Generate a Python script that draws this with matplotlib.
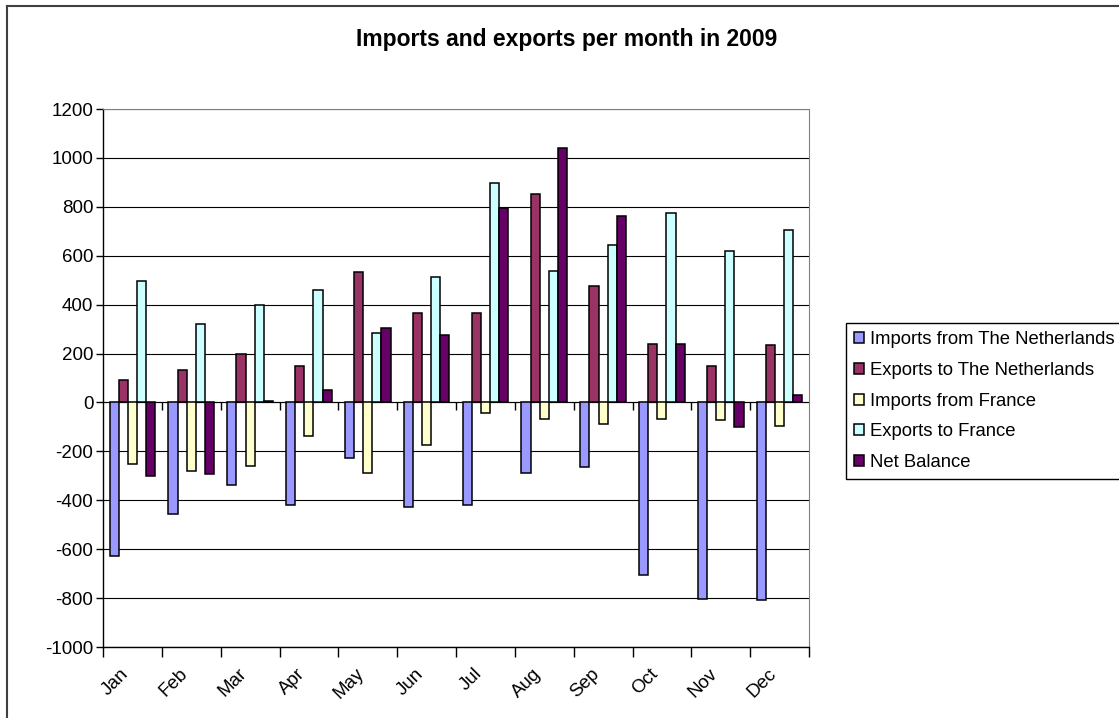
import numpy as np
import matplotlib.pyplot as plt
import matplotlib.transforms as mtransforms
from matplotlib.lines import Line2D

plt.rcParams['font.family'] = ['Liberation Sans', 'DejaVu Sans']
plt.rcParams['axes.unicode_minus'] = False

months = ['Jan', 'Feb', 'Mar', 'Apr', 'May', 'Jun',
          'Jul', 'Aug', 'Sep', 'Oct', 'Nov', 'Dec']

imports_nl = [-627, -455, -336, -421, -227, -426, -419, -287, -264, -705, -802, -809]
exports_nl = [90, 131, 198, 150, 532, 364, 364, 854, 477, 239, 149, 233]
imports_fr = [-251, -281, -258, -137, -287, -173, -44, -67, -90, -67, -72, -96]
exports_fr = [495, 322, 400, 460, 286, 513, 896, 537, 645, 776, 621, 704]
net_balance = [-300, -294, 6, 49, 306, 274, 795, 1039, 764, 239, -102, 31]

series = [
    ('Imports from The Netherlands', imports_nl, '#9999FF'),
    ('Exports to The Netherlands', exports_nl, '#993366'),
    ('Imports from France', imports_fr, '#FFFFCC'),
    ('Exports to France', exports_fr, '#CCFFFF'),
    ('Net Balance', net_balance, '#660066'),
]

fig = plt.figure(figsize=(11.19, 7.18), dpi=100)
ax = fig.add_axes([103/1119, 1 - 647/718, (809 - 103)/1119, (647 - 109)/718])

x = np.arange(len(months))
w = 0.155
off = (1 - 5 * w) / 2
for k, (name, vals, col) in enumerate(series):
    ax.bar(x + off + k * w, vals, width=w, align='edge', color=col,
           edgecolor='black', linewidth=1.1, label=name, zorder=3)

ax.set_xlim(0, len(months))
ax.set_ylim(-1000, 1200)
ax.set_yticks(np.arange(-1000, 1201, 200))
ax.yaxis.grid(True, color='black', linewidth=0.8, zorder=0)
ax.tick_params(axis='y', labelsize=13.5, length=5, width=1, direction='out', pad=2)

# category boundaries get ticks, month names sit in between
ax.set_xticks(np.arange(len(months) + 1))
ax.set_xticklabels([])
ax.tick_params(axis='x', which='major', length=7, width=1, direction='out')
ax.set_xticks(x + 0.5, minor=True)
ax.set_xticklabels(months, minor=True, rotation=45, ha='right',
                   rotation_mode='anchor', fontsize=13.5)
ax.tick_params(axis='x', which='minor', length=0, pad=13)
shift = mtransforms.ScaledTranslation(-12/100, 0, fig.dpi_scale_trans)
for lab in ax.get_xticklabels(minor=True):
    lab.set_transform(lab.get_transform() + shift)

for s in ['top', 'right']:
    ax.spines[s].set_color('#808080')
ax.spines['left'].set_linewidth(1.0)
ax.spines['bottom'].set_linewidth(1.0)

# the category axis crossing at zero
zero_ax = ax.secondary_xaxis(1000 / 2200)
zero_ax.set_xticks(np.arange(len(months) + 1))
zero_ax.set_xticklabels([])
zero_ax.tick_params(axis='x', direction='in', length=0)
zero_ax.spines['top'].set_linewidth(1.8)
ax.vlines(np.arange(1, len(months)), -32, 0, color='black', linewidth=1, zorder=4)

fig.text(567/1119, 1 - 46/718, 'Imports and exports per month in 2009',
         ha='center', va='baseline', fontsize=16.5, fontweight='bold')

fig.legend(loc='upper left', bbox_to_anchor=(846/1119, 1 - 323/718),
           fontsize=13.3, frameon=True, fancybox=False, edgecolor='black',
           framealpha=1, handlelength=0.55, handleheight=0.55, handletextpad=0.3,
           labelspacing=0.74, borderpad=0.45, borderaxespad=0)

# chart area border
fig.add_artist(Line2D([7/1119, 7/1119], [0, 1 - 6/718], transform=fig.transFigure,
                      color='#404040', linewidth=1.5))
fig.add_artist(Line2D([7/1119, 1], [1 - 6/718, 1 - 6/718], transform=fig.transFigure,
                      color='#404040', linewidth=1.5))

fig.savefig('out.png', dpi=100)
